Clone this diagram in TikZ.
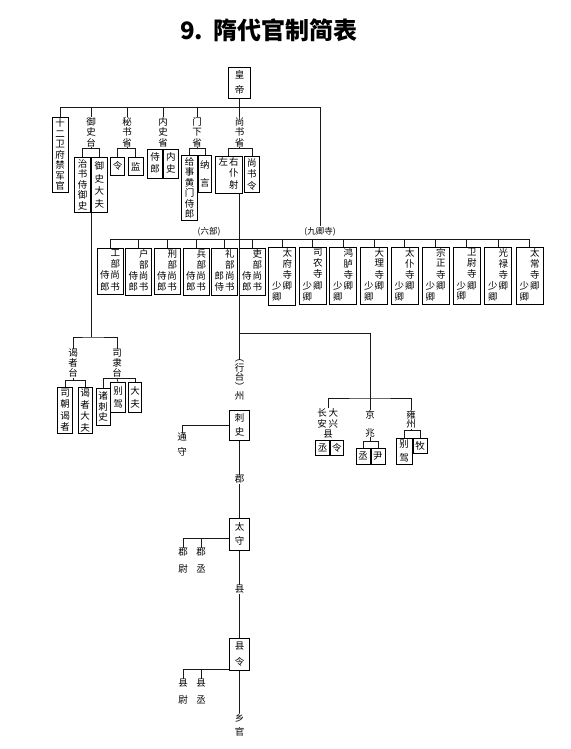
\documentclass[tikz,border=0pt]{standalone}
\usepackage{fontspec}
\newfontfamily\cjk{Noto Sans CJK SC}
\usetikzlibrary{positioning}
\tikzset{
  vlab/.style={font=\cjk\fontsize{9.5}{#1}\selectfont, align=center, inner sep=0pt, anchor=north},
  vlab/.default=10.5,
  cell/.style={vlab=#1, draw, line width=0.65pt, inner sep=1pt},
  cell/.default=10.5,
  ln/.style={line width=0.65pt, black!90},
  tag/.style={font=\cjk\fontsize{8.5}{9}\selectfont, inner sep=1pt}
}
\newcommand{\twocol}[1]{\begin{tabular}{@{}c@{\hspace{1pt}}c@{}}#1\end{tabular}}

\begin{document}
\begin{tikzpicture}[x=1pt,y=-1pt]
\useasboundingbox (0,0) rectangle (570,749);
\node[font=\cjk\bfseries\fontsize{24}{26}\selectfont] (title) at (269,30) {9.\hspace{0.45em}隋代官制简表};

% emperor and the offices under him
\node[cell=15, minimum width=22pt, minimum height=31pt] (hd) at (239.5,67) {皇\\帝};
\node[cell, minimum width=16pt, minimum height=75pt] (wf) at (60,117) {十\\二\\卫\\府\\禁\\军\\官};
\node[vlab] (yst) at (91,117) {御\\史\\台};
\node[cell, minimum width=16pt, minimum height=55pt, anchor=north east] (yst1) at (91,157) {治\\书\\侍\\御\\史};
\node[cell=12.5, minimum width=16pt, minimum height=55pt, anchor=north west] (yst2) at (91,157) {御\\史\\大\\夫};
\node[vlab] (msh) at (127,117) {秘\\书\\省};
\node[cell, minimum width=14pt, minimum height=18pt] (msh1) at (117.5,157) {令};
\node[cell, minimum width=15pt, minimum height=18pt] (msh2) at (135.5,157) {监};
\node[vlab] (nsh) at (163,117) {内\\史\\省};
\node[cell=12, minimum width=15pt, minimum height=29pt, anchor=north east] (nsh1) at (163,148.5) {侍\\郎};
\node[cell=12, minimum width=15pt, minimum height=29pt, anchor=north west] (nsh2) at (163,148.5) {内\\史};
\node[vlab] (mxs) at (197,117) {门\\下\\省};
\node[cell, minimum width=16pt, minimum height=65pt, anchor=north east] (mxs1) at (198,155) {给\\事\\黄\\门\\侍\\郎};
\node[cell=18, minimum width=13pt, minimum height=37pt, anchor=north west] (mxs2) at (198,155) {纳\\言};
\node[vlab] (ssh) at (239.5,117) {尚\\书\\省};
\node[cell=11.5, minimum width=27pt, minimum height=36pt, anchor=north east] (pys) at (242.5,156) {\twocol{左&右\\&仆\\&射}};
\node[cell=11.5, minimum width=15pt, minimum height=36pt, anchor=north west] (ssl) at (244,156) {尚\\书\\令};

\draw[ln] (hd.south) -- (ssh.north);
\node[tag] (jq) at (320,232) {(九卿寺)};
\node[tag] (lb) at (209,232) {(六部)};
\draw[ln] (wf.north) -- ++(0,-10) -| (jq.north);
\draw[ln] (yst.north) -- ++(0,-10);
\draw[ln] (msh.north) -- ++(0,-10);
\draw[ln] (nsh.north) -- ++(0,-10);
\draw[ln] (mxs.north) -- ++(0,-10);
\draw[ln] (yst.south) -- ++(0,1.5) coordinate (b1) -| (yst1.north); \draw[ln] (b1) -| (yst2.north);
\draw[ln] (msh.south) -- ++(0,1.5) coordinate (b2) -| (msh1.north); \draw[ln] (b2) -| (msh2.north);
\draw[ln] (mxs.south) -- ++(0,1.5) coordinate (b3) -| (mxs1.north); \draw[ln] (b3) -| (mxs2.north);
\draw[ln] (ssh.south) -- ++(0,1.5) coordinate (b4) -| (pys.north); \draw[ln] (b4) -| (ssl.north);

% six ministries
\node[cell, minimum width=26pt, minimum height=45pt] (gongbu) at (110,248) {\twocol{&工\\&部\\侍&尚\\郎&书}};
\node[cell, minimum width=26pt, minimum height=45pt] (hubu) at (138.5,248) {\twocol{&户\\&部\\侍&尚\\郎&书}};
\node[cell, minimum width=26pt, minimum height=45pt] (xingbu) at (167,248) {\twocol{&刑\\&部\\侍&尚\\郎&书}};
\node[cell, minimum width=26pt, minimum height=45pt] (bingbu) at (196,248) {\twocol{&兵\\&部\\侍&尚\\郎&书}};
\node[cell, minimum width=26pt, minimum height=45pt] (lbu) at (224.5,248) {\twocol{&礼\\&部\\郎&尚\\侍&书}};
\node[cell, minimum width=26pt, minimum height=45pt] (libu) at (252,248) {\twocol{&吏\\&部\\侍&尚\\郎&书}};

% nine courts
\node[cell, minimum width=27pt, minimum height=55pt] (taifu) at (282,247) {\twocol{&太\\&府\\&寺\\少&卿\\卿&}};
\node[cell, minimum width=27pt, minimum height=55pt] (sinong) at (312.5,247) {\twocol{&司\\&农\\&寺\\少&卿\\卿&}};
\node[cell, minimum width=27pt, minimum height=55pt] (honglu) at (343,247) {\twocol{&鸿\\&胪\\&寺\\少&卿\\卿&}};
\node[cell, minimum width=27pt, minimum height=55pt] (dali) at (374,247) {\twocol{&大\\&理\\&寺\\少&卿\\卿&}};
\node[cell, minimum width=27pt, minimum height=55pt] (taipu) at (404.5,247) {\twocol{&太\\&仆\\&寺\\少&卿\\卿&}};
\node[cell, minimum width=27pt, minimum height=55pt] (zongzh) at (435.5,247) {\twocol{&宗\\&正\\&寺\\少&卿\\卿&}};
\node[cell, minimum width=27pt, minimum height=55pt] (weiwei) at (466.5,247) {\twocol{&卫\\&尉\\&寺\\少&卿\\卿&}};
\node[cell, minimum width=27pt, minimum height=55pt] (guanglu) at (498,247) {\twocol{&光\\&禄\\&寺\\少&卿\\卿&}};
\node[cell, minimum width=27pt, minimum height=55pt] (taich) at (529.5,247) {\twocol{&太\\&常\\&寺\\少&卿\\卿&}};

\draw[ln] (gongbu.north) -- ++(0,-9) -| (taich.north);
\draw[ln] (hubu.north) -- ++(0,-9);
\draw[ln] (xingbu.north) -- ++(0,-9);
\draw[ln] (bingbu.north) -- ++(0,-9);
\draw[ln] (lbu.north) -- ++(0,-9);
\draw[ln] (libu.north) -- ++(0,-9);
\draw[ln] (taifu.north) -- ++(0,-8);
\draw[ln] (sinong.north) -- ++(0,-8);
\draw[ln] (honglu.north) -- ++(0,-8);
\draw[ln] (dali.north) -- ++(0,-8);
\draw[ln] (taipu.north) -- ++(0,-8);
\draw[ln] (zongzh.north) -- ++(0,-8);
\draw[ln] (weiwei.north) -- ++(0,-8);
\draw[ln] (guanglu.north) -- ++(0,-8);

% under the censorate
\coordinate (ybar) at (91,337);
\node[vlab=10] (yzt) at (73,349) {谒\\者\\台};
\node[vlab=10] (slt) at (117,349) {司\\隶\\台};
\node[cell=11.5, minimum width=15pt, minimum height=46pt] (yzt1) at (65,387) {司\\朝\\谒\\者};
\node[cell=11.5, minimum width=14pt, minimum height=46pt] (yzt2) at (85,387) {谒\\者\\大\\夫};
\node[cell, minimum width=14pt, minimum height=37pt] (slt1) at (103,388) {诸\\刺\\史};
\node[cell=13, minimum width=15pt, minimum height=30pt] (slt2) at (118,382) {别\\驾};
\node[cell=13, minimum width=13pt, minimum height=30pt] (slt3) at (135,382) {大\\夫};
\draw[ln] (yst1.south east) -- (ybar);
\draw[ln] (yzt.north) |- (ybar) -| (slt.north);
\draw[ln] (yzt.south) -- ++(0,2) coordinate (b5) -| (yzt1.north); \draw[ln] (b5) -| (yzt2.north);
\draw[ln] (slt.south) -- ++(0,1) coordinate (b6) -| (slt1.north); \draw[ln] (b6) -| (slt3.north);
\draw[ln] (b6) -- (slt2.north);

% local government
\coordinate (br) at (239.5,333);
\coordinate (kbar) at (370,398);
\node[vlab=9.5] (xt) at (239.5,360) {︵\\行\\台\\︶\\州};
\node[cell=14, minimum width=20pt, minimum height=30pt] (csh) at (239.5,410) {刺\\史};
\node[vlab=15] (tsh) at (182,433) {通\\守};
\node[vlab] (jun) at (239.5,475) {郡};
\node[cell=14, minimum width=20pt, minimum height=32pt] (tai) at (239.5,518) {太\\守};
\node[vlab=17] (jwei) at (183,548) {郡\\尉};
\node[vlab=17] (jch) at (201,548) {郡\\丞};
\node[vlab] (xian) at (239.5,585) {县};
\node[cell=16, minimum width=20pt, minimum height=32pt] (xl) at (239.5,638) {县\\令};
\node[vlab=17] (xwei) at (183,679) {县\\尉};
\node[vlab=17] (xch) at (201,679) {县\\丞};
\node[vlab=14] (xg) at (239.5,713) {乡\\官};

\draw[ln] (pys.south -| hd.south) -- (xt.north);
\draw[ln] (csh.west) -| (tsh.north);
\draw[ln] (csh.south) -- (jun.north);
\draw[ln] (jun.south) -- (tai.north);
\coordinate (tb) at ([yshift=-4pt]tai.west);
\draw[ln] (tb) -| (jwei.north);
\draw[ln] (tb -| jch.north) -- (jch.north);
\draw[ln] (tai.south) -- (xian.north);
\draw[ln] (xian.south) -- (xl.north);
\coordinate (xb) at ([yshift=1pt]xl.south west);
\draw[ln] (xb) -| (xwei.north);
\draw[ln] (xb -| xch.north) -- (xch.north);
\draw[ln] (xl.south) -- (xg.north);

% capital and Yongzhou
\node[vlab=9.5] (cax) at (328,408) {\twocol{长&大\\安&兴\\\multicolumn{2}{c}{县}}};
\node[cell, minimum width=14pt, minimum height=15pt, anchor=north east] (cax1) at (330,440) {丞};
\node[cell, minimum width=13pt, minimum height=15pt, anchor=north west] (cax2) at (330,440) {令};
\node[vlab=18] (jzh) at (370,410) {京\\兆};
\node[cell, minimum width=14pt, minimum height=16pt, anchor=north east] (jzh1) at (370.5,448) {丞};
\node[cell, minimum width=14pt, minimum height=16pt, anchor=north west] (jzh2) at (370.5,448) {尹};
\node[vlab=9.5] (yong) at (411,410) {雍\\州};
\node[cell=14, minimum width=16pt, minimum height=26pt] (yong1) at (404,438) {别\\驾};
\node[cell, minimum width=14pt, minimum height=15pt] (yong2) at (420,438) {牧};

\draw[ln] (br) -| (kbar);
\draw[ln] (cax.north) |- (kbar) -| (yong.north);
\draw[ln] (jzh.north) -- (kbar);
\draw[ln] (jzh.south) -- ++(0,4) coordinate (b7) -| (jzh1.north); \draw[ln] (b7) -| (jzh2.north);
\draw[ln] (yong.south) -- ++(0,2) coordinate (b8) -| (yong1.north); \draw[ln] (b8) -| (yong2.north);
\end{tikzpicture}
\end{document}
